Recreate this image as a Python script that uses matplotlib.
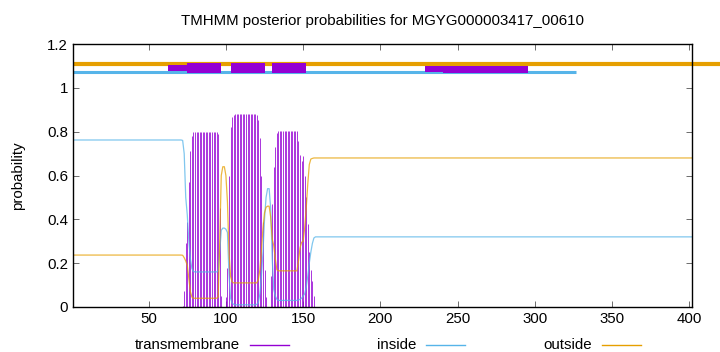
import numpy as np
import matplotlib
matplotlib.use('Agg')
import matplotlib.pyplot as plt
from matplotlib.lines import Line2D
from matplotlib.patches import Rectangle

plt.rcParams['font.family'] = ['Liberation Sans', 'DejaVu Sans']
plt.rcParams['font.size'] = 10.8

seq_len = 402
title = 'TMHMM posterior probabilities for MGYG000003417_00610'

# flat parts before / after the helix region
inside_start, outside_start = 0.762, 0.237
inside_end, outside_end = 0.32, 0.68

# residues 70..158
region_res = list(range(70, 159))
inside_mid = [0.762, 0.762, 0.760, 0.70, 0.50, 0.42, 0.30, 0.22, 0.175, 0.162,
              0.16, 0.16, 0.16, 0.16, 0.16, 0.16, 0.16, 0.16, 0.16, 0.16,
              0.16, 0.16, 0.16, 0.16, 0.16, 0.165, 0.25, 0.35, 0.36, 0.36,
              0.355, 0.34, 0.15, 0.04, 0.018, 0.012, 0.01, 0.01, 0.01, 0.01,
              0.01, 0.01, 0.01, 0.01, 0.01, 0.01, 0.01, 0.01, 0.01, 0.01,
              0.012, 0.02, 0.06, 0.14, 0.25, 0.40, 0.50, 0.54, 0.54, 0.45,
              0.22, 0.08, 0.05, 0.035, 0.03, 0.03, 0.03, 0.03, 0.03, 0.03,
              0.03, 0.03, 0.03, 0.03, 0.03, 0.03, 0.03, 0.032, 0.035, 0.04,
              0.05, 0.06, 0.09, 0.14, 0.20, 0.25, 0.29, 0.315, 0.32]
outside_mid = [0.237, 0.237, 0.236, 0.225, 0.21, 0.19, 0.13, 0.07, 0.045, 0.04,
               0.04, 0.04, 0.04, 0.04, 0.04, 0.04, 0.04, 0.04, 0.04, 0.04,
               0.04, 0.04, 0.04, 0.04, 0.04, 0.045, 0.30, 0.60, 0.64, 0.64,
               0.60, 0.48, 0.25, 0.14, 0.115, 0.11, 0.11, 0.11, 0.11, 0.11,
               0.11, 0.11, 0.11, 0.11, 0.11, 0.11, 0.11, 0.11, 0.11, 0.11,
               0.11, 0.125, 0.17, 0.26, 0.36, 0.43, 0.455, 0.46, 0.46, 0.41,
               0.31, 0.28, 0.22, 0.17, 0.165, 0.165, 0.165, 0.165, 0.165, 0.165,
               0.165, 0.165, 0.165, 0.165, 0.165, 0.165, 0.165, 0.21, 0.27, 0.295,
               0.30, 0.36, 0.45, 0.56, 0.65, 0.675, 0.678, 0.68, 0.68]
tm_mid = [0.0, 0.0, 0.004, 0.075, 0.29, 0.39, 0.57, 0.71, 0.78, 0.798,
          0.80, 0.80, 0.80, 0.80, 0.80, 0.80, 0.80, 0.80, 0.80, 0.80,
          0.80, 0.80, 0.80, 0.80, 0.80, 0.79, 0.45, 0.05, 0.0, 0.0,
          0.045, 0.18, 0.60, 0.82, 0.867, 0.878, 0.88, 0.88, 0.88, 0.88,
          0.88, 0.88, 0.88, 0.88, 0.88, 0.88, 0.88, 0.88, 0.88, 0.88,
          0.878, 0.855, 0.77, 0.60, 0.39, 0.17, 0.045, 0.0, 0.0, 0.14,
          0.47, 0.64, 0.73, 0.795, 0.805, 0.805, 0.805, 0.805, 0.805, 0.805,
          0.805, 0.805, 0.805, 0.805, 0.805, 0.805, 0.805, 0.758, 0.695, 0.665,
          0.69, 0.60, 0.50, 0.38, 0.25, 0.17, 0.12, 0.05, 0.0]

# topology bars across the top
outside_bar = (1, 430)
inside_bar = (1, 326.6)
tm_boxes = [(75, 97, 1.066, 1.115), (103, 125, 1.066, 1.115),
            (130, 152, 1.066, 1.115), (240.6, 295.5, 1.066, 1.101)]
tm_thin = [(62.8, 75, 1.078, 1.104), (229, 240.6, 1.073, 1.101)]

c_tm = '#9400D3'
c_in = '#56B4E9'
c_out = '#E69F00'

n0 = region_res[0]
n1 = region_res[-1]
res = np.arange(1, seq_len + 1)
inside = np.array([inside_start] * (n0 - 1) + inside_mid + [inside_end] * (seq_len - n1))
outside = np.array([outside_start] * (n0 - 1) + outside_mid + [outside_end] * (seq_len - n1))

fig = plt.figure(figsize=(7.2, 3.52), dpi=100)
ax = fig.add_axes([73 / 720, 1 - 307 / 352, (692.3 - 73) / 720, (307 - 44) / 352])

tm_x = [r for r, v in zip(region_res, tm_mid) if v > 0]
tm_y = [v for v in tm_mid if v > 0]
ax.vlines(tm_x, 0, tm_y, color=c_tm, lw=0.65, alpha=0.85)
ax.plot(res, inside, color=c_in, lw=0.9, alpha=0.75)
ax.plot(res, outside, color=c_out, lw=0.9, alpha=0.75)

ax.plot(outside_bar, [1.11, 1.11], color=c_out, lw=3.0, clip_on=False, solid_capstyle='butt')
ax.plot(inside_bar, [1.071, 1.071], color=c_in, lw=2.2, solid_capstyle='butt')
for x0, x1, y0, y1 in tm_thin + tm_boxes:
    ax.add_patch(Rectangle((x0, y0), x1 - x0, y1 - y0, color=c_tm, lw=0, zorder=3))

ax.set_xlim(1, seq_len)
ax.set_ylim(0, 1.2)
ax.set_xticks([50, 100, 150, 200, 250, 300, 350, 400])
ax.set_yticks([0, 0.2, 0.4, 0.6, 0.8, 1.0, 1.2])
ax.set_yticklabels(['0', '0.2', '0.4', '0.6', '0.8', '1', '1.2'])
ax.tick_params(direction='in', top=True, right=True, length=4, width=0.6, color='#555555')
for s in ax.spines.values():
    s.set_linewidth(1.0)
ax.set_ylabel('probability')
ax.yaxis.set_label_coords(-0.078, 0.5)
ax.set_title(title, fontsize=10.8, pad=14)

# gnuplot-style key below the axes
key_y = 1 - 345 / 352
key = [('transmembrane', 240, 250, 289, c_tm),
       ('inside', 416, 426, 465, c_in),
       ('outside', 592, 602, 641, c_out)]
for label, tx, l0, l1, col in key:
    fig.text(tx / 720, key_y, label, ha='right', va='center')
    fig.lines.append(Line2D([l0 / 720, l1 / 720], [key_y, key_y], color=col, lw=1.0,
                            transform=fig.transFigure))

fig.savefig('out.png', dpi=100)
